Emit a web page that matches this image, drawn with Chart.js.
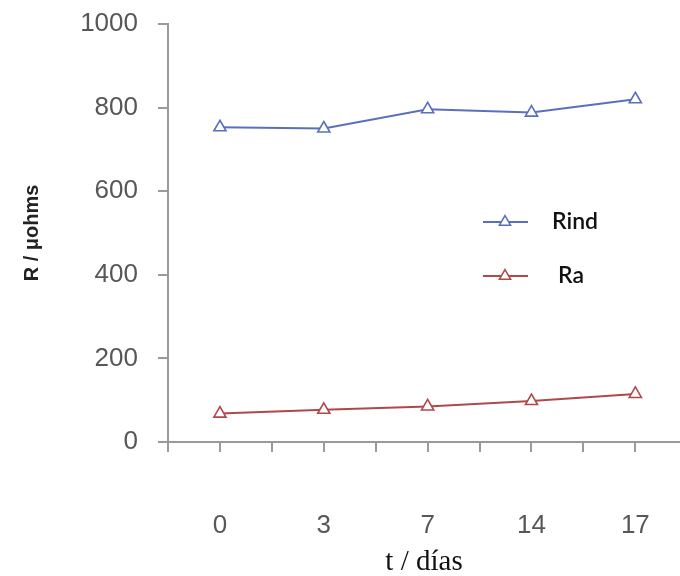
<!DOCTYPE html>
<html>
<head>
<meta charset="utf-8">
<script src="https://cdn.jsdelivr.net/npm/chart.js@4/dist/chart.umd.min.js"></script>
<style>
  html, body { margin: 0; padding: 0; background: #fff; overflow: hidden; }
  #wrap { width: 680px; height: 576px; }
</style>
</head>
<body>
<div id="wrap"><canvas id="c" width="680" height="576"></canvas></div>
<script>
// Sampling days and resistance series
const days = ['0', '3', '7', '14', '17'];
const rind = [753, 750, 796, 788, 820];
const ra = [68, 77, 85, 98, 115];
const yTicks = [0, 200, 400, 600, 800, 1000];
// tick marks sit halfway between sampling days and under each day
const xTickPos = [-0.5, 0, 0.5, 1, 1.5, 2, 2.5, 3, 3.5, 4];

const BLUE = '#5b70bd';
const RED = '#b0484b';
const AXIS = '#9a9a9a';
const TICK_TXT = '#575757';

const toPoints = arr => arr.map((v, i) => ({ x: i, y: v }));

// Legend with a short line and the hollow triangle marker
const lineLegend = {
  id: 'lineLegend',
  afterDraw(chart) {
    const ctx = chart.ctx;
    const rows = [
      { ds: chart.data.datasets[0], y: 222, tx: 552 },
      { ds: chart.data.datasets[1], y: 276, tx: 558 }
    ];
    ctx.save();
    rows.forEach(r => {
      ctx.strokeStyle = r.ds.borderColor;
      ctx.lineWidth = 2;
      ctx.beginPath();
      ctx.moveTo(483, r.y);
      ctx.lineTo(528, r.y);
      ctx.stroke();
      ctx.fillStyle = '#fff';
      ctx.strokeStyle = r.ds.borderColor;
      ctx.lineWidth = 1.5;
      Chart.helpers.drawPoint(ctx, {
        pointStyle: 'triangle', radius: 6.5, rotation: 0, borderWidth: 1.5
      }, 505, r.y);
      ctx.fillStyle = '#111';
      ctx.font = '600 23px Lato, "Open Sans", sans-serif';
      ctx.textBaseline = 'middle';
      ctx.textAlign = 'left';
      ctx.fillText(r.ds.label, r.tx, r.y);
    });
    ctx.restore();
  }
};

const seriesStyle = color => ({
  borderColor: color,
  backgroundColor: '#fff',
  borderWidth: 2,
  pointStyle: 'triangle',
  pointRadius: 7,
  pointBorderWidth: 1.6,
  pointBackgroundColor: '#fff',
  pointBorderColor: color,
  tension: 0
});

new Chart(document.getElementById('c'), {
  type: 'line',
  data: {
    datasets: [
      Object.assign({ label: 'Rind', data: toPoints(rind) }, seriesStyle(BLUE)),
      Object.assign({ label: 'Ra', data: toPoints(ra) }, seriesStyle(RED))
    ]
  },
  options: {
    responsive: false,
    animation: false,
    layout: { autoPadding: false, padding: { top: 24, left: 0, right: 0, bottom: 0 } },
    plugins: { legend: { display: false }, tooltip: { enabled: false } },
    scales: {
      x: {
        type: 'linear',
        min: -0.5,
        max: 4.43,
        afterFit: s => {
          s.height = 134;
          s.paddingLeft = 0;
          s.paddingRight = 0;
        },
        afterBuildTicks: s => { s.ticks = xTickPos.map(v => ({ value: v })); },
        ticks: {
          autoSkip: false,
          maxRotation: 0,
          padding: 58,
          color: TICK_TXT,
          font: { family: '"Liberation Sans", Arial, sans-serif', size: 26 },
          callback: v => Number.isInteger(v) && v >= 0 && v < days.length ? days[v] : ''
        },
        grid: { display: true, drawOnChartArea: false, drawTicks: true, tickLength: 10, color: AXIS, lineWidth: 2 },
        border: { display: true, color: AXIS, width: 2 },
        title: {
          display: true,
          text: 't / días',
          color: '#111',
          font: { family: '"Liberation Serif", "Times New Roman", serif', size: 29 },
          padding: { top: 0, bottom: -4 }
        }
      },
      y: {
        min: 0,
        max: 1000,
        afterFit: s => {
          s.width = 168;
          s.paddingTop = 0;
          s.paddingBottom = 0;
        },
        afterBuildTicks: s => { s.ticks = yTicks.map(v => ({ value: v })); },
        ticks: {
          padding: 20,
          color: TICK_TXT,
          font: { family: '"Liberation Sans", Arial, sans-serif', size: 26 },
          callback: v => String(v)
        },
        grid: { display: true, drawOnChartArea: false, drawTicks: true, tickLength: 10, color: AXIS, lineWidth: 2 },
        border: { display: true, color: AXIS, width: 2 },
        title: {
          display: true,
          text: 'R / μohms',
          color: '#222',
          font: { family: '"Liberation Sans", Arial, sans-serif', size: 20, weight: 'bold' },
          padding: { top: 20, bottom: 0 }
        }
      }
    }
  },
  plugins: [lineLegend]
});
</script>
</body>
</html>
